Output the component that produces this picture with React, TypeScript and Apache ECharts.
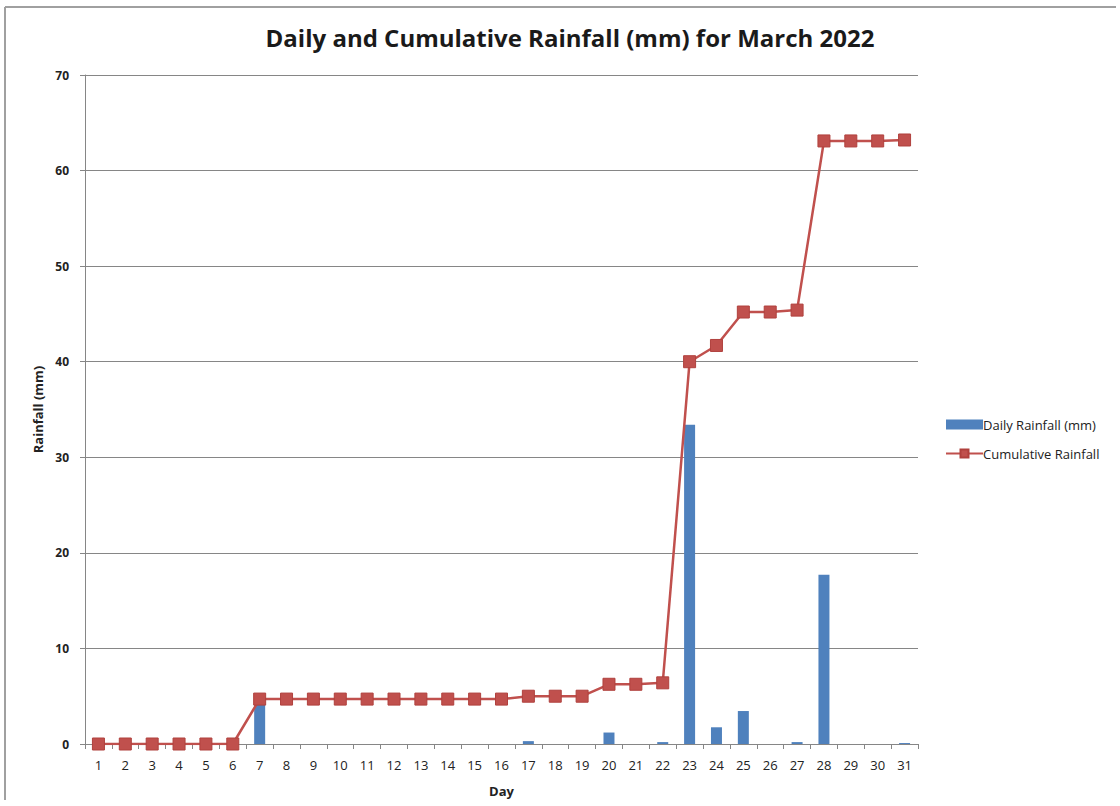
import React, { useEffect, useRef } from "react";
import * as echarts from "echarts";

const days = Array.from({ length: 31 }, (_, i) => String(i + 1));
const dailyRainfall = [0, 0, 0, 0, 0, 0, 4.7, 0, 0, 0, 0, 0, 0, 0, 0, 0, 0.3, 0, 0, 1.2, 0, 0.2, 33.4, 1.75, 3.45, 0, 0.2, 17.7, 0, 0, 0.1];
const cumulativeRainfall = [0, 0, 0, 0, 0, 0, 4.7, 4.7, 4.7, 4.7, 4.7, 4.7, 4.7, 4.7, 4.7, 4.7, 5.0, 5.0, 5.0, 6.25, 6.25, 6.4, 40.0, 41.7, 45.2, 45.2, 45.4, 63.1, 63.1, 63.1, 63.2];
const yTicks = { min: 0, max: 70, interval: 10 };

export default function App() {
  const ref = useRef<HTMLDivElement>(null);
  useEffect(() => {
    document.body.style.margin = "0";
    const chart = echarts.init(ref.current!, null, { renderer: "svg" });
    const font = "'Open Sans', 'Noto Sans', sans-serif";
    chart.setOption({
      animation: false,
      backgroundColor: "#ffffff",
      textStyle: { fontFamily: font },
      title: {
        text: "Daily and Cumulative Rainfall (mm) for March 2022",
        left: 565,
        textAlign: "center",
        top: 20,
        textStyle: { fontFamily: font, fontSize: 24, fontWeight: "bold", color: "#1a1a1a" },
      },
      graphic: [
        { type: "line", shape: { x1: 5, y1: 7, x2: 1116, y2: 7 }, style: { stroke: "#a0a0a0", lineWidth: 2 } },
        { type: "line", shape: { x1: 5, y1: 7, x2: 5, y2: 800 }, style: { stroke: "#a0a0a0", lineWidth: 2 } },
      ],
      legend: {
        orient: "vertical",
        left: 940,
        top: 413,
        itemGap: 16,
        itemWidth: 37,
        itemHeight: 10,
        textStyle: { fontSize: 13, color: "#222", fontFamily: font, padding: [0, 0, 0, -5] },
        data: [
          { name: "Daily Rainfall (mm)", icon: "rect" },
          { name: "Cumulative Rainfall" },
        ],
      },
      grid: { left: 85, right: 202, top: 75, bottom: 62 },
      xAxis: {
        type: "category",
        data: days,
        boundaryGap: true,
        name: "Day",
        nameLocation: "middle",
        nameGap: 40,
        nameTextStyle: { fontSize: 13, fontWeight: "bold", color: "#222", fontFamily: font },
        axisLine: { lineStyle: { color: "#868686", width: 1 } },
        axisTick: { show: true, length: 5, alignWithLabel: false, lineStyle: { color: "#868686" } },
        axisLabel: { fontSize: 13, color: "#222", margin: 14, interval: 0 },
      },
      yAxis: {
        type: "value",
        min: yTicks.min,
        max: yTicks.max,
        interval: yTicks.interval,
        name: "Rainfall (mm)",
        nameLocation: "middle",
        nameGap: 40,
        nameTextStyle: { fontSize: 13, fontWeight: "bold", color: "#222", fontFamily: font },
        axisLine: { show: true, lineStyle: { color: "#868686", width: 1 } },
        axisTick: { show: true, length: 5, lineStyle: { color: "#868686" } },
        axisLabel: { fontSize: 12, color: "#222", margin: 16, fontWeight: "bold" },
        splitLine: { show: true, lineStyle: { color: "#868686", width: 1 } },
      },
      series: [
        {
          name: "Daily Rainfall (mm)",
          type: "bar",
          data: dailyRainfall,
          barWidth: 11,
          itemStyle: { color: "#4F81BD" },
          z: 2,
        },
        {
          name: "Cumulative Rainfall",
          type: "line",
          data: cumulativeRainfall,
          symbol: "rect",
          symbolSize: 12,
          lineStyle: { color: "#C0504D", width: 2.5 },
          itemStyle: { color: "#C0504D", borderColor: "#B0403D", borderWidth: 1 },
          z: 3,
        },
      ],
    });
    return () => chart.dispose();
  }, []);
  return <div ref={ref} style={{ position: "fixed", left: 0, top: 0, width: 1120, height: 806 }} />;
}
